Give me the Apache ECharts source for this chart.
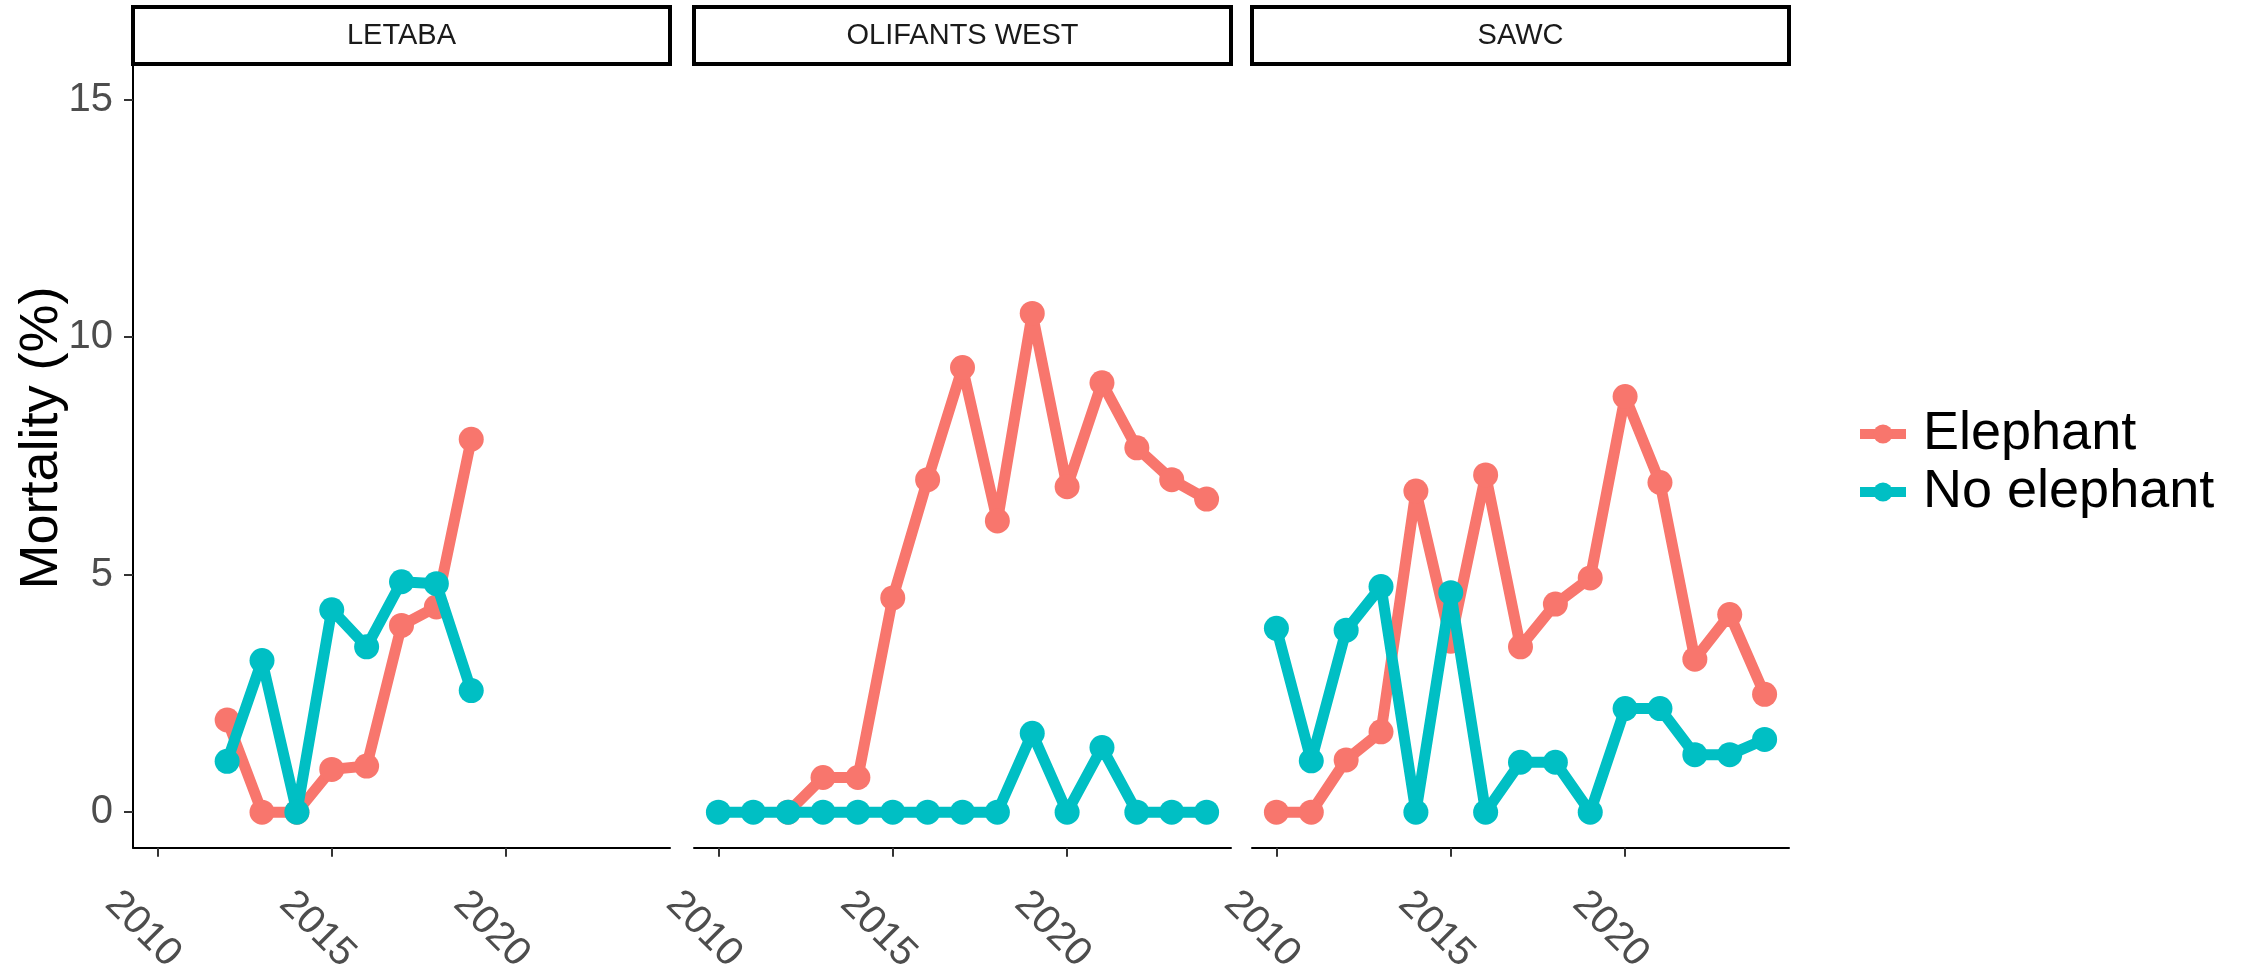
<!DOCTYPE html>
<html>
<head>
<meta charset="utf-8">
<script src="https://cdn.jsdelivr.net/npm/echarts@6/dist/echarts.min.js"></script>
<style>
  html, body { margin: 0; padding: 0; background: #fff; }
  #chart { width: 2244px; height: 977px; }
</style>
</head>
<body>
<div id="chart"></div>
<script>
// facet names and tick labels
const panels = ['LETABA', 'OLIFANTS WEST', 'SAWC'];
const xTicks = [2010, 2015, 2020];
const yTicks = [0, 5, 10, 15];

// LETABA
const letabaYears = [2012, 2013, 2014, 2015, 2016, 2017, 2018, 2019];
const letabaElephant = [1.94, 0, 0, 0.9, 0.97, 3.93, 4.32, 7.85];
const letabaNoElephant = [1.07, 3.19, 0, 4.26, 3.48, 4.85, 4.81, 2.56];

// OLIFANTS WEST
const olifantsElephantYears = [2012, 2013, 2014, 2015, 2016, 2017, 2018, 2019, 2020, 2021, 2022, 2023, 2024];
const olifantsElephant = [0, 0.73, 0.73, 4.51, 7.0, 9.36, 6.13, 10.5, 6.85, 9.04, 7.67, 7.0, 6.59];
const olifantsNoElephantYears = [2010, 2011, 2012, 2013, 2014, 2015, 2016, 2017, 2018, 2019, 2020, 2021, 2022, 2023, 2024];
const olifantsNoElephant = [0, 0, 0, 0, 0, 0, 0, 0, 0, 1.66, 0, 1.36, 0, 0, 0];

// SAWC
const sawcYears = [2010, 2011, 2012, 2013, 2014, 2015, 2016, 2017, 2018, 2019, 2020, 2021, 2022, 2023, 2024];
const sawcElephant = [0, 0, 1.1, 1.69, 6.76, 3.6, 7.1, 3.48, 4.38, 4.93, 8.75, 6.94, 3.22, 4.16, 2.48];
const sawcNoElephant = [3.87, 1.08, 3.83, 4.75, 0, 4.62, 0, 1.05, 1.05, 0, 2.18, 2.18, 1.21, 1.21, 1.53];

const colors = { 'Elephant': '#F8766D', 'No elephant': '#00BFC4' };

function zip(xs, ys) {
    return xs.map((x, i) => [x, ys[i]]);
}

const seriesData = [
    [zip(letabaYears, letabaElephant), zip(letabaYears, letabaNoElephant)],
    [zip(olifantsElephantYears, olifantsElephant), zip(olifantsNoElephantYears, olifantsNoElephant)],
    [zip(sawcYears, sawcElephant), zip(sawcYears, sawcNoElephant)]
];

// layout of the three facets (px)
const panelLeft = [133, 694, 1252];
const panelWidth = 537;
const panelTop = 64;
const panelHeight = 798;
const stripTop = 7;

let chart = echarts.init(document.getElementById('chart'));

let grids = [], xAxes = [], yAxes = [], series = [], graphics = [];

panels.forEach((name, i) => {
    grids.push({ left: panelLeft[i], top: panelTop, width: panelWidth, height: panelHeight });
    xAxes.push({
        type: 'value',
        gridIndex: i,
        min: 2009.3,
        max: 2024.7,
        splitLine: { show: false },
        axisLine: { show: true, onZero: false, lineStyle: { color: '#000', width: 2 } },
        axisTick: { show: true, length: 9, customValues: xTicks, lineStyle: { color: '#333', width: 2 } },
        axisLabel: {
            customValues: xTicks,
            formatter: (v) => String(v),
            rotate: -45,
            align: 'right',
            verticalAlign: 'middle',
            margin: 96,
            padding: [0, -24, 0, 0],
            fontFamily: 'Liberation Sans',
            fontSize: 40,
            color: '#4D4D4D'
        }
    });
    yAxes.push({
        type: 'value',
        gridIndex: i,
        min: -0.75,
        max: 15.75,
        splitLine: { show: false },
        axisLine: { show: i === 0, onZero: false, lineStyle: { color: '#000', width: 2 } },
        axisTick: { show: i === 0, length: 9, customValues: yTicks, lineStyle: { color: '#333', width: 2 } },
        axisLabel: {
            show: i === 0,
            customValues: yTicks,
            margin: 20,
            fontFamily: 'Liberation Sans',
            fontSize: 40,
            color: '#4D4D4D'
        }
    });
    ['Elephant', 'No elephant'].forEach((s, j) => {
        series.push({
            name: s,
            type: 'line',
            xAxisIndex: i,
            yAxisIndex: i,
            data: seriesData[i][j],
            symbol: 'circle',
            symbolSize: 25,
            showSymbol: true,
            color: colors[s],
            lineStyle: { width: 11, color: colors[s] },
            itemStyle: { color: colors[s] },
            emphasis: { disabled: true },
            animation: false,
            z: 2 + j
        });
    });
    // facet strip
    graphics.push({
        type: 'rect',
        shape: { x: panelLeft[i], y: stripTop, width: panelWidth, height: panelTop - stripTop },
        style: { fill: '#fff', stroke: '#000', lineWidth: 4 }
    });
    graphics.push({
        type: 'text',
        x: panelLeft[i] + panelWidth / 2,
        y: (stripTop + panelTop) / 2,
        style: {
            text: name,
            fontFamily: 'Liberation Sans',
            fontSize: 29,
            fill: '#1A1A1A',
            align: 'center',
            verticalAlign: 'middle'
        }
    });
});

graphics.push({
    type: 'text',
    x: 42,
    y: 438,
    rotation: Math.PI / 2,
    style: {
        text: 'Mortality (%)',
        fontFamily: 'Liberation Sans',
        fontSize: 54,
        fill: '#000',
        align: 'center',
        verticalAlign: 'middle'
    }
});

let option = {
    backgroundColor: '#fff',
    animation: false,
    grid: grids,
    xAxis: xAxes,
    yAxis: yAxes,
    legend: {
        data: ['Elephant', 'No elephant'],
        orient: 'vertical',
        left: 1850,
        top: 402,
        itemWidth: 46,
        itemHeight: 24,
        itemGap: 4,
        lineStyle: { width: 10 },
        textStyle: {
            fontFamily: 'Liberation Sans',
            fontSize: 54,
            color: '#000',
            padding: [0, 0, 0, 12]
        }
    },
    graphic: graphics,
    series: series
};
chart.setOption(option);
</script>
</body>
</html>
